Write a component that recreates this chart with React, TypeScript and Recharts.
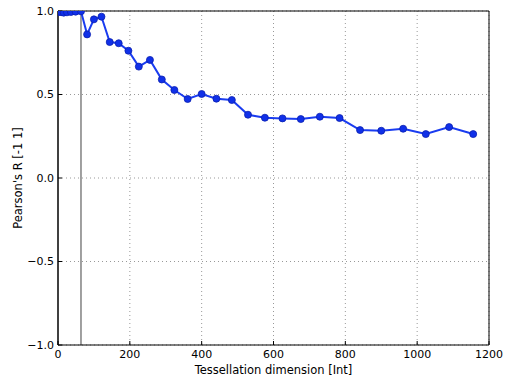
import React from 'react';
import {
  LineChart,
  Line,
  XAxis,
  YAxis,
  CartesianGrid,
  ReferenceLine,
} from 'recharts';

// Tessellation dimensions (perfect squares) and their correlation coefficients
const dimensions = [
  1, 4, 9, 16, 25, 36, 49, 64, 81, 100, 121, 144, 169, 196, 225, 256, 289, 324,
  361, 400, 441, 484, 529, 576, 625, 676, 729, 784, 841, 900, 961, 1024, 1089, 1156,
];
const pearsonR = [
  0.995, 0.995, 0.993, 0.99, 0.992, 0.994, 0.996, 0.998, 0.86, 0.95, 0.966, 0.814,
  0.807, 0.762, 0.667, 0.707, 0.59, 0.527, 0.473, 0.503, 0.475, 0.467, 0.379, 0.361,
  0.357, 0.353, 0.367, 0.359, 0.287, 0.283, 0.295, 0.263, 0.305, 0.263,
];
const xTicks = [0, 200, 400, 600, 800, 1000, 1200];
const yTicks = [-1, -0.5, 0, 0.5, 1];
const markerX = 64;

const data = dimensions.map((d, i) => ({ dim: d, r: pearsonR[i] }));

const FONT = 'DejaVu Sans, sans-serif';
const FS = 11;
const LABEL_FS = 11.5;
const fmtY = (v: number) => v.toFixed(1).replace('-', '\u2212');

export default function App() {
  return (
    <div style={{ position: 'absolute', left: 0, top: 0, background: '#fff' }}>
      <LineChart
        width={508}
        height={380}
        data={data}
        margin={{ top: 11, right: 19, bottom: 0, left: 0 }}
        style={{ fontFamily: FONT }}
      >
        <CartesianGrid stroke="#999" strokeDasharray="1 3" />
        <XAxis
          dataKey="dim"
          type="number"
          domain={[0, 1200]}
          ticks={xTicks}
          height={35}
          stroke="#000"
          tick={{ fill: '#000', fontSize: FS, fontFamily: FONT }}
          tickSize={-4}
          tickMargin={9}
          interval={0}
          allowDataOverflow
          label={{
            value: 'Tessellation dimension [Int]',
            position: 'insideBottom',
            offset: 6,
            fill: '#000',
            fontSize: LABEL_FS,
            fontFamily: FONT,
          }}
        />
        <YAxis
          type="number"
          domain={[-1, 1]}
          ticks={yTicks}
          width={58}
          stroke="#000"
          tick={{ fill: '#000', fontSize: FS, fontFamily: FONT }}
          tickFormatter={fmtY}
          tickSize={-4}
          tickMargin={8}
          interval={0}
          allowDataOverflow
          label={{
            value: "Pearson's R [-1 1]",
            angle: -90,
            position: 'insideLeft',
            offset: 18,
            style: { textAnchor: 'middle' },
            fill: '#000',
            fontSize: LABEL_FS,
            fontFamily: FONT,
          }}
        />
        <ReferenceLine x={0} stroke="#808080" strokeWidth={2} />
        <ReferenceLine x={markerX} stroke="#808080" strokeWidth={1.5} />
        <ReferenceLine y={1} stroke="#000" strokeWidth={1} />
        <ReferenceLine x={1200} stroke="#000" strokeWidth={1} />
        <Line
          dataKey="r"
          stroke="#1a3cf0"
          strokeWidth={2}
          dot={{ r: 3.5, fill: '#1030e8', stroke: '#0a20b0', strokeWidth: 0.8 }}
          isAnimationActive={false}
        />
      </LineChart>
    </div>
  );
}
